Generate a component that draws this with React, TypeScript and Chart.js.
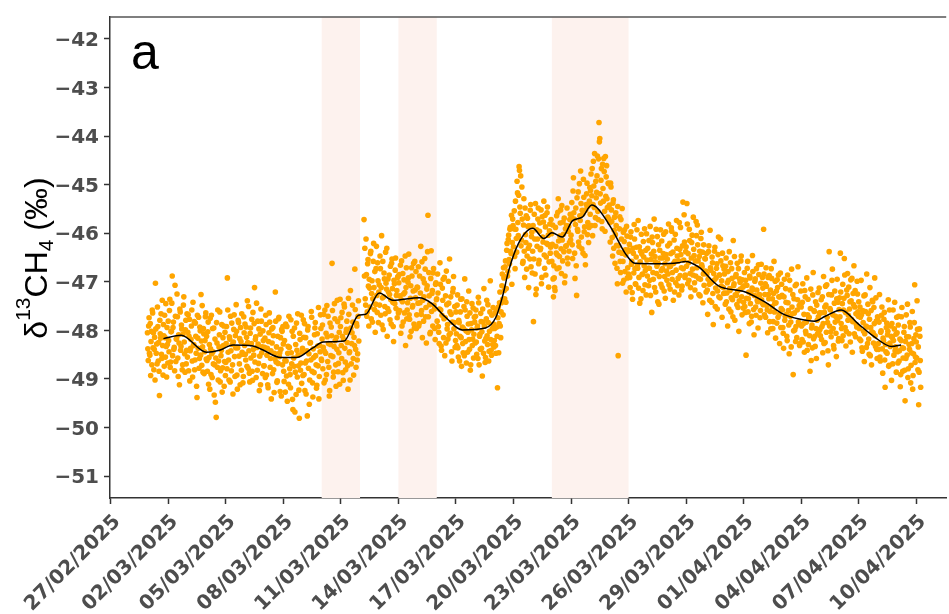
import React, { useEffect, useRef } from "react";
import { Chart, registerables } from "chart.js";

Chart.register(...registerables);

// ---- time helpers (days since 27/02/2025, UTC) ----
const DAY0 = Date.UTC(2025, 1, 27);
const MS_DAY = 86400000;
const isoToDay = (iso: string) => (Date.parse(iso + ":00Z") - DAY0) / MS_DAY;
const labelToDay = (s: string) => {
  const [d, m, y] = s.split("/").map(Number);
  return (Date.UTC(y, m - 1, d) - DAY0) / MS_DAY;
};

// ---- axes ----
const dateTicks = [
  "27/02/2025", "02/03/2025", "05/03/2025", "08/03/2025", "11/03/2025",
  "14/03/2025", "17/03/2025", "20/03/2025", "23/03/2025", "26/03/2025",
  "29/03/2025", "01/04/2025", "04/04/2025", "07/04/2025", "10/04/2025",
];
const valueTicks = [-51, -50, -49, -48, -47, -46, -45, -44, -43, -42];
const yMin = -51.45;
const yMax = -41.55;

// ---- shaded periods ----
const shadedPeriods: [string, string][] = [
  ["2025-03-10T00:00", "2025-03-12T00:00"],
  ["2025-03-14T00:00", "2025-03-16T00:00"],
  ["2025-03-22T00:00", "2025-03-26T00:00"],
];

// ---- δ13CH4 measurements (‰): readings on the hour, one row per day ----
const seriesAStart = "2025-02-28T22:00";
const seriesA = [
  -48.05, -48.62,
  -47.74, -48.51, -48.93, -48.02, -47.58, -48.36, -48.81, -48.14, -47.03, -48.47, -48.69, -47.92, -48.25, -49.34, -48.07, -47.66, -48.58, -48.31, -47.88, -48.74, -48.15, -47.45, -48.96, -48.29,
  -47.81, -48.44, -47.36, -48.65, -48.02, -46.88, -47.94, -48.39, -48.83, -47.71, -48.18, -47.25, -48.57, -48.09, -49.12, -47.62, -48.33, -47.97, -48.71, -47.48, -48.24, -48.86, -47.79, -48.41,
  -48.55, -47.68, -48.12, -49.04, -48.37, -47.91, -48.63, -47.42, -48.29, -48.81, -47.85, -48.47, -49.38, -48.16, -47.73, -48.58, -48.01, -47.26, -48.72, -48.34, -47.96, -48.89, -48.21, -47.64,
  -48.12, -48.84, -47.83, -48.56, -49.21, -48.38, -47.69, -48.97, -48.44, -47.95, -48.71, -49.48, -49.79, -48.26, -47.58, -48.63, -48.09, -49.06, -48.52, -47.88, -48.77, -48.31, -49.15, -48.04,
  -48.66, -47.92, -46.92, -48.45, -49.02, -48.18, -47.71, -48.83, -48.29, -49.31, -47.98, -48.54, -48.11, -47.47, -48.92, -48.36, -47.84, -48.69, -49.12, -48.23, -47.66, -48.49, -48.95, -48.05,
  -47.87, -48.61, -48.14, -47.39, -48.78, -48.42, -49.06, -47.95, -48.27, -48.84, -47.63, -48.51, -47.12, -48.19, -48.97, -48.35, -47.81, -48.68, -49.24, -48.08, -47.56, -48.46, -48.89, -48.21,
];

const seriesBStart = "2025-03-07T00:00";
const seriesB = [
  -48.73, -48.16, -47.69, -48.92, -48.37, -49.18, -48.05, -47.83, -48.58, -49.41, -48.26, -47.94, -48.81, -48.47, -47.21, -48.65, -49.07, -48.12, -47.76, -48.54, -49.26, -48.39, -47.98, -48.71,
  -48.28, -49.05, -48.62, -47.87, -48.94, -49.46, -48.33, -47.71, -48.79, -49.18, -48.46, -48.02, -49.63, -48.57, -47.95, -48.86, -49.32, -48.41, -47.66, -48.73, -49.81, -48.19, -48.67, -49.09,
  -48.37, -47.78, -48.91, -49.24, -48.15, -48.63, -49.76, -47.92, -48.48, -49.02, -48.25, -47.61, -48.84, -49.37, -48.56, -48.09, -47.84, -48.71, -49.13, -48.32, -47.53, -48.95, -48.44, -47.96,
  -48.62, -47.89, -48.35, -49.08, -47.58, -48.47, -48.91, -48.13, -47.71, -48.76, -49.24, -48.29, -47.93, -46.62, -48.54, -48.86, -47.45, -48.21, -49.15, -48.39, -47.82, -48.68, -48.04, -47.36,
  -47.74, -48.58, -48.12, -49.03, -47.46, -48.37, -48.81, -47.98, -48.25, -49.21, -47.67, -48.44, -47.18, -48.69, -48.05, -47.83, -48.92, -48.31, -47.57, -48.76, -47.91, -48.48, -47.39,
];

const seriesCStart = "2025-03-12T05:00";
const seriesC = [
  -45.72, -46.31, -47.48, -46.85, -47.62, -46.54, -47.91, -47.13, -46.42, -47.76, -46.98, -47.35, -46.21, -47.57, -48.04, -46.73, -47.28, -46.61, -47.84,
  -47.06, -46.47, -47.69, -46.05, -47.33, -47.98, -46.82, -47.51, -46.39, -47.15, -48.12, -46.94, -47.61, -47.26, -46.68, -47.87, -46.53, -47.42, -48.23, -47.04, -46.76, -47.55, -47.18, -46.91,
  -47.64, -46.85, -47.29, -48.06, -46.57, -47.41, -47.83, -46.96, -47.22, -48.31, -46.71, -47.58, -47.01, -46.43, -47.77, -47.34, -48.02, -46.88, -47.49, -46.62, -47.95, -47.17, -46.79, -47.68,
  -47.12, -46.69, -47.86, -47.43, -46.27, -47.59, -48.15, -46.94, -47.31, -46.52, -47.72, -48.26, -47.08, -45.63, -46.81, -47.47, -48.04, -46.36, -47.24, -47.91, -46.73, -47.56, -48.19, -47.02,
  -47.35, -46.84, -47.92, -48.27, -46.61, -47.58, -48.41, -47.13, -46.95, -47.76, -48.52, -47.29, -46.78, -47.97, -48.18, -47.44, -46.53, -48.06, -47.67, -48.63, -47.21, -46.89, -47.84, -48.35,
  -47.62, -48.31, -47.27, -48.55, -47.84, -48.12, -47.36, -48.74, -47.93, -48.46, -47.51, -46.94, -48.23, -48.67, -47.71, -48.04, -47.19, -48.39, -48.82, -47.86, -47.45, -48.18, -48.57, -47.73,
  -48.26, -47.58, -48.49, -47.91, -47.32, -48.71, -48.08, -47.65, -48.37, -48.94, -47.83, -47.14, -48.22, -48.56, -47.76, -48.11, -47.47, -48.63, -48.02, -46.98, -48.41, -47.69, -48.29, -47.87,
];

const seriesDStart = "2025-03-19T00:00";
const seriesD = [
  -48.21, -47.64, -48.47, -47.93, -49.18, -47.52, -47.86, -47.21, -48.15, -47.43, -46.84, -47.68, -46.92, -47.35, -46.57, -47.14, -46.21, -46.79, -46.04, -46.63, -45.88, -46.42, -47.05, -45.71,
  -46.28, -45.54, -46.73, -45.92, -46.39, -45.17, -46.05, -44.63, -45.46, -44.82, -46.14, -45.71, -46.58, -45.29, -46.91, -46.03, -45.64, -46.47, -45.86, -47.12, -46.25, -45.53, -46.69, -45.98,
  -46.37, -47.82, -45.61, -46.84, -47.26, -45.93, -46.12, -45.48, -46.56, -45.79, -46.31, -47.04, -45.66, -46.18, -45.34, -46.72, -45.87, -46.49, -45.58, -46.23, -47.11, -45.95, -46.41, -45.72,
  -46.58, -45.83, -47.31, -46.92, -47.18, -46.27, -45.64, -46.45, -45.29, -46.71, -46.06, -45.52, -46.83, -46.14, -45.77, -46.38, -47.02, -45.91, -46.26, -45.48, -46.63, -45.86, -46.19, -45.61,
  -46.04, -45.37, -46.52, -44.86, -45.71, -46.93, -45.48, -47.28, -45.92, -45.15, -46.27, -45.64, -44.72, -46.08, -45.53, -46.41, -45.26, -45.87, -46.65, -45.41, -44.97, -45.78, -46.19, -45.34,
  -45.61, -44.78, -45.23, -46.05, -44.52, -45.47, -45.84, -44.93, -45.16, -44.41, -45.72, -43.72, -44.05, -45.38, -44.67, -45.91, -45.08, -44.46, -45.55, -44.42, -44.84, -45.29, -45.67, -44.98,
  -45.42, -46.18, -45.05, -45.76, -46.47, -45.31, -45.94, -46.62, -45.58, -46.25, -47.04, -48.52, -46.39, -45.66, -46.81, -46.12, -45.49, -46.58, -46.97, -45.93, -46.34, -47.21, -46.06, -46.71,
];

const seriesEStart = "2025-03-26T00:00";
const seriesE = [
  -46.84, -46.23, -47.12, -45.97, -46.58, -47.36, -46.41, -45.82, -46.73, -47.05, -46.29, -46.66, -45.74, -46.91, -47.44, -46.37, -46.02, -46.85, -47.18, -46.49, -45.91, -46.77, -47.27, -46.55,
  -46.31, -47.08, -46.72, -45.86, -46.54, -47.63, -46.19, -46.95, -45.71, -46.48, -47.21, -46.83, -46.07, -46.62, -47.46, -46.35, -45.93, -46.77, -47.12, -46.51, -46.02, -46.89, -47.34, -46.44,
  -46.97, -46.26, -45.81, -46.69, -47.15, -46.42, -45.96, -46.81, -47.38, -46.14, -46.58, -47.02, -45.74, -46.47, -46.93, -47.27, -46.33, -45.88, -46.71, -47.09, -45.36, -46.55, -46.18, -46.86,
  -46.28, -45.39, -47.04, -46.61, -45.92, -46.83, -47.31, -46.19, -46.74, -45.67, -46.46, -47.17, -46.88, -46.05, -45.83, -46.57, -47.26, -46.37, -46.95, -45.98, -46.69, -47.43, -46.24, -46.79,
  -46.53, -47.21, -46.84, -47.67, -46.38, -47.05, -45.94, -46.76, -47.42, -46.61, -47.88, -46.97, -46.29, -47.13, -46.72, -47.56, -46.44, -47.31, -46.86, -46.12, -47.09, -47.73, -46.67, -47.24,
  -46.84, -47.46, -46.51, -47.23, -47.91, -46.97, -46.38, -47.18, -47.62, -46.73, -47.37, -46.15, -47.04, -47.79, -46.89, -47.28, -46.62, -47.53, -48.02, -46.94, -47.15, -46.47, -47.68, -47.11,
  -47.42, -46.81, -47.63, -48.51, -47.07, -46.58, -47.35, -47.86, -46.92, -47.24, -47.71, -46.46, -47.16, -48.09, -46.99, -47.52, -46.73, -47.38, -47.95, -46.85, -47.27, -47.59, -46.64, -47.43,
];

const seriesFStart = "2025-04-02T00:00";
const seriesF = [
  -47.13, -45.92, -47.68, -47.04, -46.71, -47.49, -48.05, -47.26, -46.87, -47.61, -47.97, -46.93, -47.35, -47.82, -46.58, -47.44, -48.16, -47.19, -46.96, -47.73, -47.31, -48.27, -46.82, -47.55,
  -47.28, -47.94, -48.37, -46.95, -47.71, -47.42, -48.12, -46.86, -47.59, -48.48, -47.17, -47.83, -46.74, -47.66, -48.91, -47.35, -47.99, -48.23, -47.05, -47.58, -46.69, -47.87, -48.31, -47.46,
  -47.52, -48.19, -47.04, -47.86, -48.45, -47.31, -48.07, -46.92, -47.68, -48.29, -47.73, -48.84, -47.15, -47.95, -48.36, -46.81, -47.59, -48.12, -47.41, -48.58, -47.79, -47.22, -48.03, -47.64,
  -48.11, -47.37, -47.92, -48.46, -46.89, -47.63, -48.25, -47.48, -47.06, -47.84, -48.71, -46.38, -47.55, -48.03, -47.27, -46.74, -47.96, -48.38, -47.19, -47.71, -48.54, -46.95, -47.42, -48.17,
  -47.33, -46.41, -47.86, -48.21, -47.05, -47.58, -46.52, -47.94, -48.32, -47.17, -46.83, -47.69, -48.07, -47.41, -46.96, -47.77, -48.45, -47.24, -46.67, -47.52, -48.13, -47.88, -46.99, -47.62,
  -47.41, -48.18, -47.73, -46.97, -48.36, -47.59, -48.02, -48.64, -47.27, -47.91, -46.84, -48.27, -47.66, -48.49, -47.12, -47.94, -48.71, -47.38, -48.05, -47.53, -46.92, -48.33, -47.81, -48.58,
  -47.74, -48.39, -47.26, -48.63, -48.01, -47.52, -48.88, -48.21, -47.63, -49.17, -48.44, -47.85, -48.09, -47.37, -48.72, -48.26, -47.91, -49.03, -48.15, -47.58, -48.51, -47.42, -48.34, -48.86,
  -48.05, -48.67, -47.71, -48.42, -49.16, -48.21, -47.53, -48.84, -48.37, -47.92, -49.45, -48.58, -48.13, -47.46, -48.79, -48.29, -47.84, -49.08, -48.46, -47.61, -48.93, -48.17, -47.06, -48.55,
  -48.24, -47.39, -48.81, -49.53, -47.97, -48.62,
];

// ---- δ13CH4 measurements (‰): readings on the half hour ----
const halfAStart = "2025-02-28T22:30";
const halfA = [
  -48.38, -47.91,
  -48.47, -47.86, -48.23, -48.71, -47.64, -48.05, -48.39, -49.02, -47.97, -48.28, -47.52, -48.63, -48.84, -47.79, -48.16, -48.49, -47.38, -48.92, -48.11, -47.69, -48.55, -48.33, -47.94, -48.67,
  -48.21, -47.59, -48.76, -48.03, -47.44, -48.52, -47.83, -48.35, -47.07, -48.64, -48.17, -47.72, -48.95, -48.26, -47.56, -48.41, -47.89, -48.81, -48.08, -47.31, -48.48, -47.99, -48.69, -47.66,
  -48.04, -48.83, -47.77, -48.42, -48.19, -47.58, -48.96, -48.31, -47.82, -48.61, -48.12, -49.15, -47.69, -48.37, -48.78, -47.93, -48.51, -48.22, -47.49, -48.86, -48.07, -48.44, -47.72, -48.59,
  -48.62, -48.03, -49.11, -48.29, -47.75, -48.91, -48.48, -47.96, -48.69, -49.33, -48.18, -48.57, -47.84, -48.76, -49.02, -48.34, -47.62, -48.83, -48.41, -49.27, -48.15, -47.91, -48.64, -48.93,
  -48.27, -48.79, -47.58, -48.61, -48.13, -49.06, -48.42, -47.85, -48.71, -48.24, -47.68, -48.95, -48.36, -48.02, -49.21, -47.79, -48.53, -48.17, -47.94, -48.82, -48.45, -49.08, -47.72, -48.31,
  -48.49, -47.93, -48.74, -48.25, -47.51, -48.88, -48.06, -48.57, -47.77, -49.03, -48.39, -47.86, -48.65, -48.13, -47.44, -48.82, -48.28, -47.97, -48.53, -49.12, -47.81, -48.34, -48.01, -48.73,
];

const halfBStart = "2025-03-07T00:30";
const halfB = [
  -48.35, -48.97, -47.88, -48.51, -49.12, -48.23, -47.64, -48.76, -48.42, -47.97, -48.89, -48.11, -49.28, -48.59, -47.81, -48.34, -49.04, -48.68, -47.73, -48.46, -48.15, -49.35, -48.02, -47.92,
  -48.84, -48.21, -49.27, -48.63, -47.92, -48.47, -49.11, -48.35, -48.91, -47.78, -48.69, -49.42, -48.12, -48.74, -49.68, -48.29, -47.85, -48.96, -48.51, -49.23, -48.06, -48.82, -47.69, -48.45,
  -48.93, -48.14, -47.86, -48.67, -49.31, -48.42, -47.99, -48.78, -49.52, -48.26, -48.61, -47.73, -49.08, -48.38, -48.87, -47.95, -48.52, -49.19, -48.07, -48.73, -49.41, -48.31, -47.68, -48.59,
  -48.18, -48.79, -47.67, -48.43, -49.02, -48.06, -47.49, -48.64, -48.27, -49.35, -47.85, -48.52, -48.11, -47.59, -48.96, -48.33, -47.76, -48.71, -48.14, -47.38, -48.85, -48.46, -49.11, -47.92,
  -48.31, -47.63, -48.87, -48.19, -47.52, -48.65, -48.04, -47.81, -48.73, -47.34, -48.46, -49.02, -47.95, -48.27, -47.48, -48.58, -48.14, -46.74, -48.39, -47.86, -48.61, -47.71, -48.22,
];

const halfCStart = "2025-03-12T05:30";
const halfC = [
  -46.88, -47.35, -46.12, -47.71, -46.63, -47.09, -46.95, -47.52, -46.37, -47.24, -47.83, -46.58, -47.12, -46.79, -47.46, -46.27, -47.63, -46.98, -47.21,
  -47.48, -46.73, -47.12, -47.89, -46.58, -47.31, -46.94, -47.66, -47.03, -46.31, -47.55, -47.21, -46.86, -47.78, -47.37, -46.62, -47.14, -47.92, -46.97, -47.45, -46.51, -47.28, -47.74, -46.89,
  -47.02, -47.59, -46.66, -47.37, -47.91, -46.83, -47.25, -47.64, -46.47, -47.12, -47.76, -47.43, -46.92, -47.68, -48.13, -47.08, -46.71, -47.52, -47.19, -47.87, -46.58, -47.33, -47.96, -47.11,
  -47.44, -47.91, -46.88, -47.23, -47.67, -46.59, -47.38, -47.81, -47.02, -46.74, -47.53, -47.15, -46.38, -47.72, -47.29, -48.07, -46.93, -47.61, -47.18, -46.82, -47.48, -47.96, -47.05, -47.37,
  -47.81, -47.23, -48.04, -47.56, -47.05, -48.32, -47.69, -47.38, -48.15, -46.91, -47.74, -48.26, -47.47, -47.88, -46.99, -48.09, -47.62, -47.31, -48.44, -47.83, -47.14, -47.97, -47.51, -48.21,
  -48.07, -47.48, -48.36, -47.79, -48.63, -47.62, -48.15, -47.35, -48.27, -47.96, -48.52, -47.58, -48.01, -47.41, -48.45, -47.87, -48.19, -47.64, -48.71, -47.99, -48.31, -47.54, -48.08, -47.83,
  -47.71, -48.24, -47.95, -48.58, -47.43, -48.12, -48.39, -47.82, -48.03, -47.56, -48.47, -47.91, -48.66, -48.17, -47.38, -48.29, -47.84, -48.43, -47.62, -48.19, -48.51, -47.96, -47.53, -48.34,
];

const halfDStart = "2025-03-19T00:30";
const halfD = [
  -47.96, -48.31, -47.58, -48.12, -47.74, -48.46, -47.43, -47.91, -47.62, -47.08, -47.36, -46.71, -47.18, -46.69, -47.42, -46.35, -46.88, -46.13, -46.54, -45.92, -46.37, -45.63, -46.19, -45.84,
  -45.91, -46.48, -45.34, -46.11, -44.93, -45.78, -45.22, -44.71, -45.59, -46.26, -45.05, -46.62, -45.83, -46.37, -45.48, -46.19, -46.74, -45.69, -46.31, -45.85, -46.53, -45.41, -46.07, -46.82,
  -45.84, -46.53, -46.12, -45.39, -47.15, -46.27, -45.71, -46.63, -45.96, -46.34, -45.52, -46.91, -46.08, -45.77, -46.45, -45.63, -46.86, -46.21, -45.46, -46.04, -46.59, -45.81, -46.29, -46.01,
  -46.23, -46.94, -46.67, -47.12, -45.88, -46.41, -46.73, -45.57, -46.16, -46.48, -45.79, -46.32, -45.43, -46.57, -46.02, -45.69, -46.88, -46.27, -45.84, -46.51, -45.96, -46.37, -45.72, -46.14,
  -45.67, -46.24, -45.13, -45.58, -46.41, -45.82, -46.67, -45.27, -45.96, -46.18, -44.98, -45.74, -45.39, -46.32, -45.61, -44.89, -45.97, -46.46, -45.52, -45.19, -46.03, -45.44, -45.88, -45.06,
  -45.12, -45.84, -44.67, -45.41, -45.03, -44.36, -45.68, -45.27, -44.82, -45.55, -44.47, -44.12, -45.19, -44.91, -45.76, -44.58, -45.34, -44.73, -45.96, -45.24, -44.61, -45.47, -44.97, -45.71,
  -45.78, -44.97, -45.52, -46.09, -45.38, -46.31, -45.67, -46.03, -45.84, -46.72, -45.45, -46.26, -45.91, -46.58, -45.72, -46.41, -47.03, -45.98, -46.17, -46.79, -46.45, -45.86, -46.92, -46.34,
];

const halfEStart = "2025-03-26T00:30";
const halfE = [
  -46.37, -46.91, -46.08, -46.64, -47.22, -46.31, -46.82, -46.12, -47.04, -46.49, -45.93, -46.72, -47.13, -46.28, -46.59, -47.35, -46.43, -46.84, -46.17, -46.67, -47.06, -46.35, -46.01, -46.88,
  -46.72, -46.15, -46.97, -47.28, -46.43, -46.08, -46.81, -46.37, -47.12, -46.59, -45.92, -46.68, -47.41, -46.24, -46.89, -46.51, -47.05, -46.16, -46.73, -46.42, -47.19, -46.63, -45.97, -46.78,
  -46.53, -46.84, -47.06, -46.21, -46.68, -45.89, -46.95, -46.39, -46.62, -47.21, -46.02, -46.76, -46.31, -47.08, -46.57, -45.78, -46.87, -46.44, -47.17, -46.26, -46.73, -45.62, -46.91, -46.38,
  -46.68, -45.81, -46.42, -46.97, -46.15, -47.12, -46.51, -46.04, -46.86, -46.33, -47.02, -46.57, -45.76, -46.71, -46.24, -46.93, -46.48, -47.29, -46.11, -46.65, -46.39, -46.84, -47.07, -46.52,
  -46.78, -46.42, -47.17, -46.95, -46.26, -47.38, -46.71, -47.02, -46.49, -47.24, -46.83, -46.37, -47.51, -46.92, -46.63, -47.19, -46.08, -46.86, -47.33, -46.57, -46.98, -46.41, -47.12, -46.74,
  -47.23, -46.68, -47.41, -47.02, -46.79, -47.56, -47.14, -46.61, -47.33, -46.93, -47.72, -47.08, -46.48, -47.27, -46.85, -47.47, -47.19, -46.73, -47.39, -47.01, -46.57, -47.31, -46.96, -47.54,
  -47.08, -47.51, -46.97, -47.34, -46.72, -47.62, -47.21, -46.88, -47.45, -47.83, -47.13, -46.79, -47.57, -47.28, -46.94, -47.69, -47.17, -47.41, -46.65, -47.26, -47.74, -47.03, -47.37, -46.91,
];

const halfFStart = "2025-04-02T00:30";
const halfF = [
  -47.47, -46.84, -47.26, -47.73, -47.09, -47.58, -46.91, -47.35, -47.82, -47.17, -46.73, -47.51, -47.96, -47.24, -47.62, -46.99, -47.43, -47.85, -47.12, -46.86, -47.67, -47.31, -47.94, -47.05,
  -47.58, -48.06, -47.31, -47.79, -47.14, -47.67, -48.21, -47.43, -47.89, -46.97, -47.71, -48.34, -47.52, -47.26, -48.01, -47.64, -47.08, -47.92, -48.15, -47.37, -47.83, -47.49, -48.27, -47.19,
  -47.91, -47.42, -48.24, -47.67, -47.18, -48.02, -47.83, -48.41, -47.36, -47.74, -48.11, -47.55, -48.62, -47.89, -47.27, -48.17, -47.61, -48.33, -47.96, -47.48, -48.07, -47.72, -47.13, -47.98,
  -47.64, -48.19, -47.31, -47.86, -48.27, -47.52, -47.09, -48.04, -47.73, -48.42, -47.26, -47.91, -47.58, -48.13, -46.97, -47.68, -48.31, -47.44, -47.83, -48.06, -47.35, -47.79, -48.22, -47.57,
  -47.72, -47.21, -47.96, -47.45, -48.11, -47.34, -46.86, -47.63, -48.02, -47.28, -47.79, -47.11, -47.56, -48.24, -47.39, -46.93, -47.82, -47.47, -48.07, -47.18, -47.66, -47.93, -47.25, -47.71,
  -47.96, -47.52, -48.21, -47.68, -48.43, -47.84, -47.29, -48.07, -47.61, -48.35, -47.93, -47.46, -48.18, -47.77, -48.52, -47.59, -48.03, -47.41, -48.26, -47.86, -48.11, -47.33, -48.39, -47.72,
  -48.27, -47.83, -48.55, -48.04, -47.69, -48.38, -48.16, -47.77, -48.61, -48.29, -47.94, -48.47, -48.02, -48.74, -47.58, -48.33, -48.12, -47.86, -48.69, -48.21, -47.97, -48.42, -48.08, -47.73,
  -48.44, -47.89, -48.63, -48.18, -48.91, -47.72, -48.36, -48.57, -48.04, -48.82, -48.23, -47.68, -48.51, -48.97, -48.13, -48.39, -47.93, -48.72, -48.27, -49.21, -48.48, -47.84, -48.66, -48.09,
  -48.57, -47.98, -48.34, -48.86, -48.12, -49.17,
];

// ---- smoothed trend (running mean) ----
const trendTimes = [
  "2025-03-01T18:00", "2025-03-02T16:00", "2025-03-04T00:00", "2025-03-04T16:00", "2025-03-05T09:00",
  "2025-03-06T10:00", "2025-03-06T22:00", "2025-03-07T21:00", "2025-03-08T16:00", "2025-03-09T13:00",
  "2025-03-10T02:00", "2025-03-11T04:00", "2025-03-11T22:00", "2025-03-12T07:00", "2025-03-13T00:00",
  "2025-03-13T17:00", "2025-03-15T02:00", "2025-03-15T18:00", "2025-03-16T11:00", "2025-03-17T08:00",
  "2025-03-18T13:00", "2025-03-19T02:00", "2025-03-19T10:00", "2025-03-19T18:00", "2025-03-20T06:00",
  "2025-03-21T00:00", "2025-03-21T14:00", "2025-03-22T00:00", "2025-03-22T13:00", "2025-03-23T02:00",
  "2025-03-23T14:00", "2025-03-24T02:00", "2025-03-24T10:00", "2025-03-25T04:00", "2025-03-25T20:00",
  "2025-03-26T08:00", "2025-03-27T14:00", "2025-03-28T14:00", "2025-03-28T23:00", "2025-03-29T16:00",
  "2025-03-30T16:00", "2025-04-01T02:00", "2025-04-02T03:00", "2025-04-03T01:00", "2025-04-03T20:00",
  "2025-04-04T17:00", "2025-04-05T06:00", "2025-04-06T02:00", "2025-04-06T23:00", "2025-04-07T20:00",
  "2025-04-08T17:00", "2025-04-09T05:00",
];
const trendValues = [
  -48.17, -48.1, -48.45, -48.41, -48.3,
  -48.32, -48.4, -48.56, -48.56, -48.36,
  -48.24, -48.22, -47.69, -47.67, -47.23,
  -47.38, -47.33, -47.45, -47.73, -47.99,
  -47.95, -47.73, -47.32, -46.77, -46.22,
  -45.9, -46.11, -45.99, -46.08, -45.74,
  -45.67, -45.42, -45.5, -45.94, -46.42,
  -46.62, -46.63, -46.61, -46.58, -46.7,
  -47.08, -47.21, -47.42, -47.66, -47.76,
  -47.81, -47.71, -47.58, -47.86, -48.14,
  -48.33, -48.3,
];

const measurementRuns: [string, number[]][] = [
  [seriesAStart, seriesA], [halfAStart, halfA],
  [seriesBStart, seriesB], [halfBStart, halfB],
  [seriesCStart, seriesC], [halfCStart, halfC],
  [seriesDStart, seriesD], [halfDStart, halfD],
  [seriesEStart, seriesE], [halfEStart, halfE],
  [seriesFStart, seriesF], [halfFStart, halfF],
];

const TICK_FONT = "bold 20px 'DejaVu Sans', sans-serif";
const TITLE_FAMILY = "Arial, 'Liberation Sans', sans-serif";
const AXIS_GREY = "#4D4D4D";
const LINE_GREY = "#333333";

export default function App() {
  const canvasRef = useRef<HTMLCanvasElement | null>(null);

  useEffect(() => {
    const canvas = canvasRef.current;
    if (!canvas) return;

    const points: { x: number; y: number }[] = [];
    measurementRuns.forEach(([start, vals]) => {
      const d0 = isoToDay(start);
      vals.forEach((v, i) => points.push({ x: d0 + i / 24, y: v }));
    });
    const trend = trendTimes.map((t, i) => ({ x: isoToDay(t), y: trendValues[i] }));
    const tickDays = dateTicks.map(labelToDay);

    const bandsPlugin = {
      id: "bands",
      beforeDatasetsDraw(chart: any) {
        const { ctx, chartArea, scales } = chart;
        ctx.save();
        ctx.fillStyle = "#FDF2EE";
        shadedPeriods.forEach(([a, b]) => {
          const x1 = scales.x.getPixelForValue(isoToDay(a));
          const x2 = scales.x.getPixelForValue(isoToDay(b));
          ctx.fillRect(x1, chartArea.top, x2 - x1, chartArea.bottom - chartArea.top);
        });
        ctx.restore();
      },
    };

    const decorPlugin = {
      id: "decor",
      afterDraw(chart: any) {
        const { ctx, chartArea, scales } = chart;
        ctx.save();
        // top frame line
        ctx.strokeStyle = "#555555";
        ctx.lineWidth = 1.5;
        ctx.beginPath();
        ctx.moveTo(chartArea.left, chartArea.top);
        ctx.lineTo(chartArea.right, chartArea.top);
        ctx.stroke();

        // rotated date labels
        ctx.fillStyle = AXIS_GREY;
        ctx.font = TICK_FONT;
        ctx.textAlign = "right";
        ctx.textBaseline = "alphabetic";
        dateTicks.forEach((lab, i) => {
          const px = scales.x.getPixelForValue(tickDays[i]);
          ctx.save();
          ctx.translate(px, chartArea.bottom + 14);
          ctx.rotate(-Math.PI / 4);
          ctx.fillText(lab, 0, 14.6);
          ctx.restore();
        });

        // panel tag
        ctx.fillStyle = "#000";
        ctx.font = `50px ${TITLE_FAMILY}`;
        ctx.textAlign = "left";
        ctx.fillText("a", 131, 69);

        // y-axis title: δ13CH4 (‰), centred on the plot height
        const parts = [
          { t: "δ", size: 32, dy: 0 },
          { t: "13", size: 21, dy: -17 },
          { t: "CH", size: 32, dy: 0 },
          { t: "4", size: 21, dy: 6 },
          { t: " (‰)", size: 32, dy: 0 },
        ];
        let total = 0;
        parts.forEach((p) => {
          ctx.font = `${p.size}px ${TITLE_FAMILY}`;
          total += ctx.measureText(p.t).width;
        });
        ctx.save();
        ctx.translate(47, 258 + total / 2);
        ctx.rotate(-Math.PI / 2);
        let x = 0;
        parts.forEach((p) => {
          ctx.font = `${p.size}px ${TITLE_FAMILY}`;
          ctx.fillText(p.t, x, p.dy);
          x += ctx.measureText(p.t).width;
        });
        ctx.restore();
        ctx.restore();
      },
    };

    const chart = new Chart(canvas, {
      type: "scatter",
      data: {
        datasets: [
          {
            type: "line",
            data: trend,
            borderColor: "#000",
            borderWidth: 1.5,
            pointRadius: 0,
            fill: false,
            cubicInterpolationMode: "monotone",
            order: 0,
          } as any,
          {
            data: points,
            backgroundColor: "#FFA500",
            borderWidth: 0,
            pointRadius: 2.8,
            pointHoverRadius: 2.8,
            order: 1,
          },
        ],
      },
      options: {
        animation: false,
        responsive: false,
        devicePixelRatio: 1,
        layout: { padding: { top: 15, right: 0, left: 0, bottom: 0 } },
        plugins: { legend: { display: false }, tooltip: { enabled: false } },
        events: [],
        scales: {
          x: {
            type: "linear",
            min: -0.036,
            max: 43.56,
            afterBuildTicks: (s: any) => {
              s.ticks = tickDays.map((v) => ({ value: v }));
            },
            afterFit: (s: any) => {
              s.height = 116;
            },
            ticks: { display: false },
            grid: {
              display: true,
              drawOnChartArea: false,
              drawTicks: true,
              tickLength: 6,
              tickColor: LINE_GREY,
              tickWidth: 1.5,
            },
            border: { display: true, color: LINE_GREY, width: 1.5 },
          },
          y: {
            type: "linear",
            min: yMin,
            max: yMax,
            afterBuildTicks: (s: any) => {
              s.ticks = valueTicks.map((v) => ({ value: v }));
            },
            afterFit: (s: any) => {
              s.width = 110;
            },
            ticks: {
              font: { family: "'DejaVu Sans', sans-serif", size: 20, weight: "bold" },
              color: AXIS_GREY,
              padding: 5,
              labelOffset: 2,
              callback: (v: any) => "\u2212" + Math.abs(Number(v)),
            },
            grid: {
              display: true,
              drawOnChartArea: false,
              drawTicks: true,
              tickLength: 6,
              tickColor: LINE_GREY,
              tickWidth: 1.5,
            },
            border: { display: true, color: LINE_GREY, width: 1.5 },
          },
        },
      },
      plugins: [bandsPlugin, decorPlugin],
    });

    return () => chart.destroy();
  }, []);

  return (
    <div style={{ position: "fixed", left: 0, top: 0, width: 949, height: 614, background: "#fff" }}>
      <canvas ref={canvasRef} width={949} height={614} style={{ width: 949, height: 614 }} />
    </div>
  );
}
